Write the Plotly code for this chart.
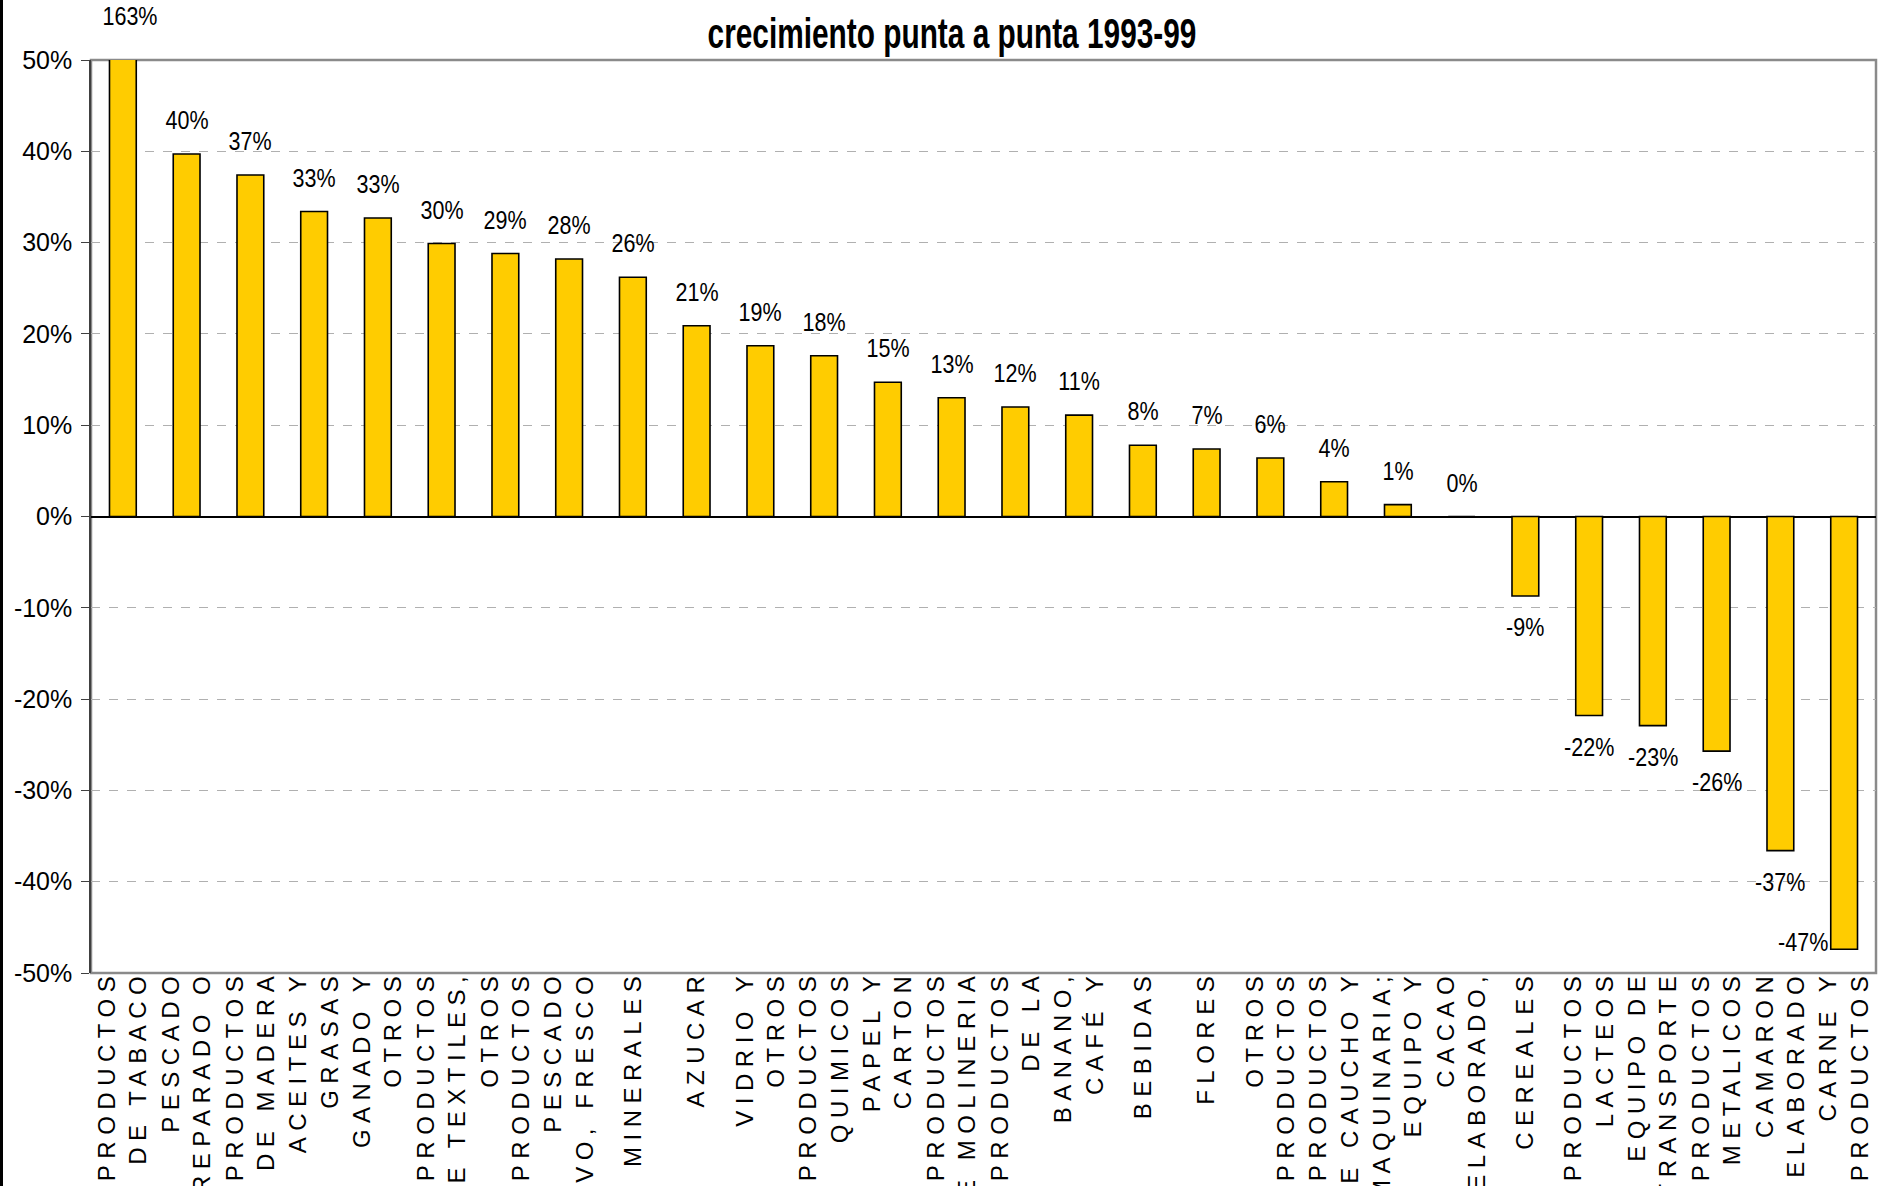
import plotly.graph_objects as go

# ---------------- data ----------------
categories = [
    "PRODUCTOS<br>DE TABACO", "PESCADO<br>PREPARADO O", "PRODUCTOS<br>DE MADERA",
    "ACEITES Y<br>GRASAS", "GANADO Y<br>OTROS", "PRODUCTOS<br>DE TEXTILES,",
    "OTROS<br>PRODUCTOS", "PESCADO<br>VIVO, FRESCO", "MINERALES", "AZUCAR",
    "VIDRIO Y<br>OTROS", "PRODUCTOS<br>QUIMICOS", "PAPEL Y<br>CARTON",
    "PRODUCTOS<br>DE MOLINERIA", "PRODUCTOS<br>DE LA", "BANANO,<br>CAFÉ Y",
    "BEBIDAS", "FLORES", "OTROS<br>PRODUCTOS", "PRODUCTOS<br>DE CAUCHO Y",
    "MAQUINARIA;<br>EQUIPO Y", "CACAO<br>ELABORADO,", "CEREALES",
    "PRODUCTOS<br>LACTEOS", "EQUIPO DE<br>TRANSPORTE", "PRODUCTOS<br>METALICOS",
    "CAMARON<br>ELABORADO", "CARNE Y<br>PRODUCTOS",
]
growth = [163.0, 39.7, 37.4, 33.4, 32.7, 29.9, 28.8, 28.2, 26.2, 20.9,
          18.7, 17.6, 14.7, 13.0, 12.0, 11.1, 7.8, 7.4, 6.4, 3.8,
          1.3, 0.0, -8.7, -21.8, -22.9, -25.7, -36.6, -47.4]
y_ticks = [-50, -40, -30, -20, -10, 0, 10, 20, 30, 40, 50]
y_tick_labels = ["-50%", "-40%", "-30%", "-20%", "-10%", "0%",
                 "10%", "20%", "30%", "40%", "50%"]
title_text = "crecimiento punta a punta 1993-99"

# ---------------- layout constants ----------------
W, H = 1883, 1186
ML, MR, MT, MB = 91, 7, 60, 213
YMIN, YMAX = -50, 50
PW, PH = W - ML - MR, H - MT - MB

ARIAL = "'Liberation Sans', Arial, sans-serif"

xs = list(range(len(categories)))

fig = go.Figure()
fig.add_trace(go.Bar(
    x=xs, y=growth,
    marker=dict(color="#FFCC00", line=dict(color="#000000", width=1.6)),
    hoverinfo="skip",
))

lab_font = dict(family=ARIAL, size=25, color="black")
annotations = []
for i, v in zip(xs, growth):
    label = f"{v:.0f}%"
    yv = max(min(v, YMAX), YMIN)
    if v > YMAX:
        annotations.append(dict(x=i, y=yv, text=label, showarrow=False,
                                yshift=44, xshift=7, yanchor="middle", font=lab_font))
    elif v >= 0:
        annotations.append(dict(x=i, y=yv, text=label, showarrow=False,
                                yshift=34, yanchor="middle", font=lab_font))
    elif v < YMIN + 5:
        annotations.append(dict(x=i, y=yv, text=label, showarrow=False,
                                yshift=7, xshift=-10, xanchor="right",
                                yanchor="middle", font=lab_font))
    else:
        annotations.append(dict(x=i, y=yv, text=label, showarrow=False,
                                yshift=-31, yanchor="middle", font=lab_font))

shapes = [
    dict(type="rect", xref="paper", yref="paper", x0=0, x1=1, y0=0, y1=1,
         line=dict(color="#8a8a8a", width=2.5), layer="below"),
    dict(type="line", xref="paper", yref="paper",
         x0=(-ML + 1.5) / PW, x1=(-ML + 1.5) / PW,
         y0=-MB / PH, y1=1 + MT / PH,
         line=dict(color="#000000", width=3)),
]

fig.update_layout(
    width=W, height=H,
    margin=dict(l=ML, r=MR, t=MT, b=MB, autoexpand=False),
    paper_bgcolor="white", plot_bgcolor="white",
    showlegend=False,
    bargap=0.58,
    font=dict(family=ARIAL, color="black"),
    title=dict(text=title_text, x=952 / W, xanchor="center",
               xref="container", y=1 - 33 / H, yanchor="middle",
               yref="container",
               font=dict(family=ARIAL, size=42, color="black", weight="bold")),
    xaxis=dict(
        tickmode="array", tickvals=xs, ticktext=categories,
        tickangle=-90, tickfont=dict(family=ARIAL, size=24, color="black"),
        range=[-0.5, len(xs) - 0.5],
        showgrid=False, zeroline=False, showline=False, ticks="",
        ticklabelstandoff=-9,
        automargin=False,
    ),
    yaxis=dict(
        range=[YMIN, YMAX], tickmode="array", tickvals=y_ticks,
        ticktext=y_tick_labels, ticklabelstandoff=4,
        tickfont=dict(family=ARIAL, size=25, color="black"),
        showgrid=True, gridcolor="#b0b0b0", griddash="dash", gridwidth=1,
        zeroline=True, zerolinecolor="#000000", zerolinewidth=1.5,
        showline=True, linecolor="#404040", linewidth=1.5,
        ticks="outside", ticklen=8, tickcolor="#404040", tickwidth=1.2,
        automargin=False,
    ),
    annotations=annotations,
    shapes=shapes,
)

post = """
document.body.style.margin = '0';
document.body.style.padding = '0';
var gd = document.getElementById('{plot_id}');
function condense(sel, f){
  gd.querySelectorAll(sel).forEach(function(t){
    if(!t.dataset.origLen){ t.dataset.origLen = t.getComputedTextLength(); }
    t.setAttribute('lengthAdjust', 'spacingAndGlyphs');
    t.setAttribute('textLength', parseFloat(t.dataset.origLen) * f);
  });
}
function restyleText(){
  gd.querySelectorAll('.xtick text').forEach(function(t){
    t.setAttribute('letter-spacing', '6.5px');
  });
  condense('.annotation-text', 0.86);
  condense('.gtitle', 0.71);
}
restyleText();
gd.on('plotly_afterplot', restyleText);
"""

fig.write_html("out.html", post_script=post, config={"displayModeBar": False})
